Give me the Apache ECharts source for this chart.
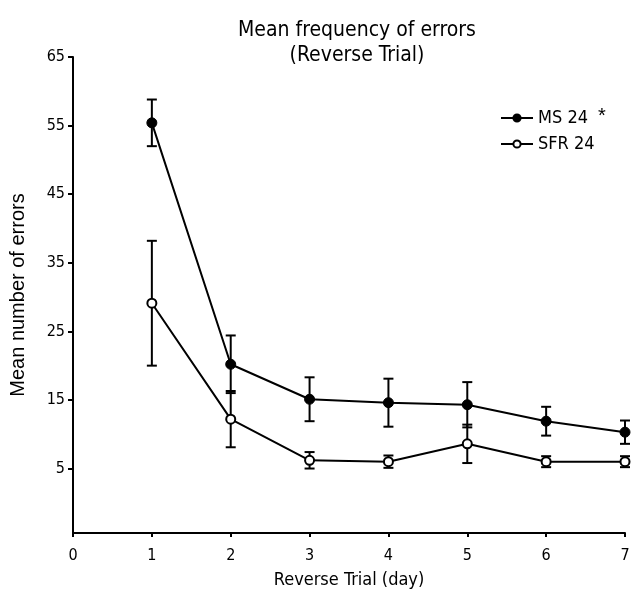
<!DOCTYPE html>
<html>
<head>
<meta charset="utf-8">
<script src="https://cdn.jsdelivr.net/npm/echarts@6/dist/echarts.min.js"></script>
<style>
html,body{margin:0;padding:0;background:#fff;}
#chart{width:633px;height:594px;}
</style>
</head>
<body>
<div id="chart"></div>
<script>
const days = [1, 2, 3, 4, 5, 6, 7];
const ms24 = [55.4, 20.2, 15.1, 14.6, 14.3, 11.9, 10.3];
const ms24Err = [3.4, 4.2, 3.2, 3.5, 3.3, 2.1, 1.7];
const sfr24 = [29.1, 12.2, 6.2, 6.0, 8.6, 6.0, 6.0];
const sfr24Err = [9.1, 4.1, 1.2, 0.9, 2.8, 0.8, 0.8];
const yTicks = [5, 15, 25, 35, 45, 55, 65];
const titleLines = ['Mean frequency of errors', '(Reverse Trial)'];
const seriesNames = ['MS 24', 'SFR 24'];

const narrow = "'Liberation Sans Narrow', 'DejaVu Sans Condensed', 'Liberation Sans', sans-serif";
const regular = "'Liberation Sans', Arial, sans-serif";

function errData(vals, errs) {
  return days.map((d, i) => [d, vals[i] - errs[i], vals[i] + errs[i]]);
}
function errSeries(vals, errs) {
  return {
    type: 'custom',
    z: 1,
    silent: true,
    data: errData(vals, errs),
    encode: { x: 0, y: [1, 2] },
    renderItem: function (params, api) {
      const x = api.value(0);
      const lo = api.coord([x, api.value(1)]);
      const hi = api.coord([x, api.value(2)]);
      const hw = 5;
      const st = { stroke: '#000', lineWidth: 2 };
      return {
        type: 'group',
        children: [
          { type: 'line', shape: { x1: lo[0], y1: lo[1], x2: hi[0], y2: hi[1] }, style: st },
          { type: 'line', shape: { x1: lo[0] - hw, y1: lo[1], x2: lo[0] + hw, y2: lo[1] }, style: st },
          { type: 'line', shape: { x1: hi[0] - hw, y1: hi[1], x2: hi[0] + hw, y2: hi[1] }, style: st }
        ]
      };
    }
  };
}

const chart = echarts.init(document.getElementById('chart'), null, { renderer: 'canvas' });
chart.setOption({
  animation: false,
  backgroundColor: '#fff',
  title: {
    text: titleLines.join('\n'),
    left: 352,
    top: 13,
    textAlign: 'center',
    textStyle: { fontFamily: narrow, fontSize: 21, fontWeight: 'normal', color: '#000', lineHeight: 25 }
  },
  legend: {
    orient: 'vertical',
    left: 495,
    top: 104,
    itemWidth: 32,
    itemHeight: 9,
    itemGap: 8,
    data: seriesNames,
    textStyle: { fontFamily: narrow, fontSize: 18, color: '#000' }
  },
  graphic: [{
    type: 'text',
    left: 598,
    top: 106,
    style: { text: '*', fontFamily: regular, fontSize: 20, fill: '#000' }
  }],
  grid: { left: 71, right: 8, top: 57, bottom: 61, containLabel: false },
  xAxis: {
    type: 'value',
    min: 0,
    max: 7,
    interval: 1,
    name: 'Reverse Trial (day)',
    nameLocation: 'middle',
    nameGap: 38,
    nameTextStyle: { fontFamily: narrow, fontSize: 18, color: '#000' },
    axisLine: { onZero: false, lineStyle: { color: '#000', width: 2 } },
    axisTick: { show: true, length: 4, lineStyle: { color: '#000', width: 2 } },
    axisLabel: { fontFamily: narrow, fontSize: 16, color: '#000', margin: 15 },
    splitLine: { show: false }
  },
  yAxis: {
    type: 'value',
    min: -4.4,
    max: 65,
    name: 'Mean number of errors',
    nameLocation: 'middle',
    nameGap: 45,
    nameTextStyle: { fontFamily: regular, fontSize: 20, color: '#000' },
    axisLine: { onZero: false, lineStyle: { color: '#000', width: 2 } },
    axisTick: { show: true, length: 5, customValues: yTicks, lineStyle: { color: '#000', width: 2 } },
    axisLabel: { fontFamily: narrow, fontSize: 16, color: '#000', margin: 8, customValues: yTicks },
    splitLine: { show: false }
  },
  series: [
    errSeries(ms24, ms24Err),
    errSeries(sfr24, sfr24Err),
    {
      name: seriesNames[0],
      type: 'line',
      z: 3,
      data: days.map((d, i) => [d, ms24[i]]),
      symbol: 'circle',
      symbolSize: 10,
      lineStyle: { color: '#000', width: 2 },
      itemStyle: { color: '#000', borderColor: '#000', borderWidth: 1 }
    },
    {
      name: seriesNames[1],
      type: 'line',
      z: 3,
      data: days.map((d, i) => [d, sfr24[i]]),
      symbol: 'circle',
      symbolSize: 9,
      lineStyle: { color: '#000', width: 2 },
      itemStyle: { color: '#fff', borderColor: '#000', borderWidth: 2 }
    }
  ]
});
</script>
</body>
</html>
